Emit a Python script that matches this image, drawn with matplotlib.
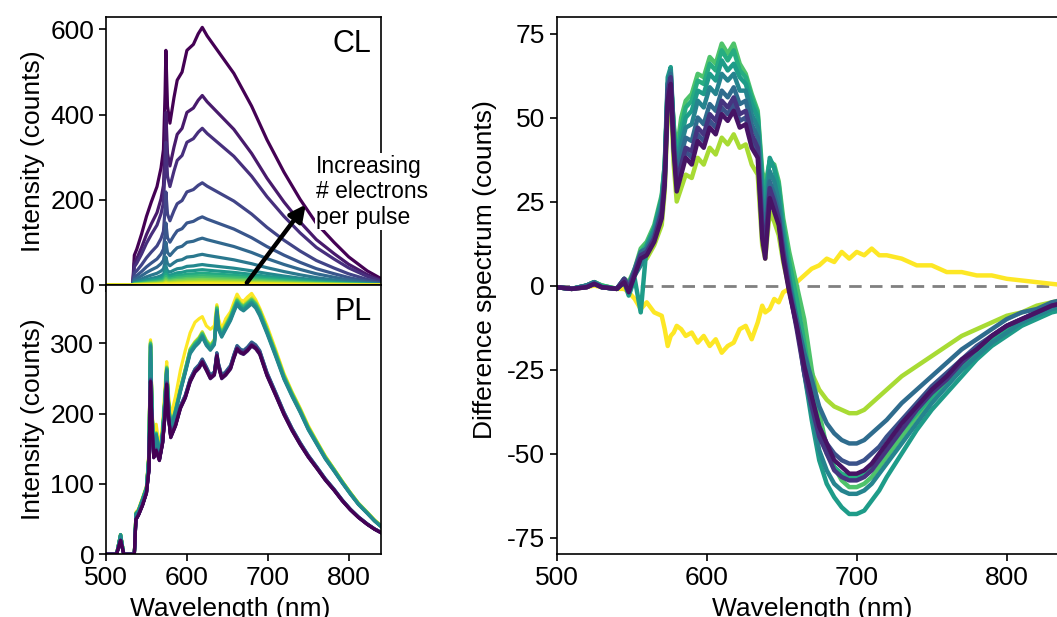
import numpy as np
import matplotlib
matplotlib.use("Agg")
import matplotlib.pyplot as plt

plt.rcParams['font.family'] = ['Liberation Sans', 'DejaVu Sans']
plt.rcParams['axes.unicode_minus'] = False
plt.rcParams['axes.linewidth'] = 1.2

# ---- CL: brightest spectrum, and peak heights of every spectrum ----
cl_wl = [500, 533, 535, 538, 544, 550, 556, 563, 568, 571, 573, 574, 576, 579,
         584, 588, 594, 600, 608, 614, 619, 625, 640, 658, 680, 699, 720, 740,
         760, 782, 800, 823, 840]
cl_top = [0, 0, 70, 84, 120, 161, 195, 231, 275, 318, 450, 551, 420, 380,
          440, 481, 500, 551, 565, 590, 605, 585, 545, 497, 420, 341, 265, 201,
          145, 100, 66, 33, 15]
cl_peak = [605, 445, 368, 240, 160, 110, 72, 48, 36, 28, 22, 17, 13, 9, 6, 3]

# ---- PL spectra ----
pl_wl = [500, 513, 518, 522, 535, 537, 540, 545, 550, 553, 555, 557, 559, 562,
         566, 570, 573, 575, 577, 580, 586, 592, 598, 604, 610, 615, 619, 624,
         629, 634, 637, 639, 643, 648, 654, 658, 662, 666, 670, 675, 680, 685,
         690, 699, 710, 720, 730, 740, 750, 761, 771, 782, 792, 802, 812, 823,
         832, 840]
pl_low = [0, 0, 20, 0, 0, 50, 56, 70, 88, 120, 248, 180, 139, 149,
          135, 160, 200, 244, 200, 168, 185, 210, 225, 248, 262, 268, 276, 265,
          253, 258, 285, 270, 253, 258, 267, 282, 295, 290, 288, 293, 300, 296,
          288, 257, 228, 201, 178, 158, 140, 123, 107, 92, 77, 64, 53, 43,
          36, 31]
pl_high = [0, 0, 28, 0, 0, 58, 62, 78, 95, 140, 300, 200, 150, 172,
           140, 175, 225, 265, 220, 180, 205, 235, 262, 290, 300, 306, 314, 302,
           295, 303, 350, 325, 314, 325, 338, 350, 361, 355, 352, 357, 362, 356,
           345, 319, 285, 253, 228, 205, 180, 158, 138, 120, 103, 87, 72, 59,
           48, 40]
pl_yellow = [0, 0, 28, 0, 0, 60, 64, 80, 97, 145, 305, 205, 158, 185,
             150, 185, 240, 274, 230, 195, 225, 262, 290, 315, 330, 335, 338, 325,
             320, 325, 355, 335, 320, 335, 345, 358, 370, 362, 360, 366, 371, 362,
             350, 325, 290, 257, 231, 208, 183, 160, 140, 121, 104, 88, 73, 60,
             49, 41]
pl_group = [0, 0, 0, 0, 0, 0, 0, 1, 1, 1, 1, 1, 1, 1, 1, 2]
pl_peak = [297, 298, 296, 299, 301, 300, 302, 356, 358, 359, 361, 362, 363, 362, 365, 371]

# ---- difference spectra ----
diff_wl = [500, 510, 520, 525, 530, 540, 545, 548, 552, 556, 560, 565, 570, 572,
           574, 576, 578, 580, 583, 586, 590, 594, 598, 602, 606, 610, 614, 618,
           622, 626, 630, 634, 637, 639, 642, 645, 648, 651, 655, 660, 665, 670,
           675, 680, 685, 690, 695, 700, 705, 710, 715, 720, 730, 740, 750, 760,
           770, 780, 790, 800, 810, 820, 830, 840]
diff_purple = [-0.5, -1, -0.5, 0.5, -0.5, -1, 1, -2, 3, 8, 9, 13, 20, 30,
               55, 60, 40, 28, 33, 38, 36, 43, 41, 47, 45, 51, 49, 52,
               47, 48, 41, 38, 14, 8, 26, 22, 18, 8, -2, -12, -24, -33,
               -42, -47, -52, -54, -56, -56, -55, -53, -50, -47, -41, -36, -31, -27,
               -22, -19, -15, -12, -10, -8, -6, -5]
diff_indigo = [-0.5, -1, -0.5, 0.5, -0.5, -1, 2, -1, 4, 9, 10, 14, 22, 32,
               58, 62, 42, 31, 36, 41, 40, 47, 45, 51, 49, 55, 53, 56,
               51, 52, 45, 41, 18, 12, 29, 25, 20, 10, -1, -13, -26, -36,
               -45, -50, -55, -57, -58, -58, -57, -55, -52, -49, -43, -37, -32, -28,
               -23, -19, -15, -12, -10, -8, -6, -5]
diff_violet = [-0.5, -1, -0.5, 0.5, -0.5, -1, 1, -1, 4, 9, 10, 14, 21, 31,
               57, 61, 41, 30, 35, 40, 38, 45, 43, 49, 47, 53, 51, 54,
               49, 50, 43, 40, 16, 10, 27, 24, 19, 9, -1, -12, -24, -34,
               -42, -47, -50, -52, -53, -53, -52, -50, -48, -45, -40, -35, -30, -26,
               -22, -18, -15, -12, -10, -8, -6, -5]
diff_blue = [-0.5, -1, 0, 1, -0.5, -1, 2, 0, 5, 10, 11, 15, 23, 33,
             60, 63, 44, 33, 39, 44, 43, 50, 48, 54, 52, 58, 56, 59,
             54, 55, 48, 44, 22, 16, 31, 27, 22, 11, 0, -10, -20, -28,
             -36, -41, -44, -46, -47, -47, -46, -44, -42, -40, -35, -31, -27, -23,
             -19, -16, -13, -10, -8, -7, -5, -4]
diff_cyan = [-0.5, -1, 0, 1, -0.5, -1, 1, -2, 3, 6, 11, 16, 24, 34,
             60, 64, 45, 35, 42, 47, 48, 55, 53, 59, 57, 63, 61, 63,
             58, 58, 51, 47, 26, 20, 34, 31, 25, 14, 2, -11, -26, -38,
             -49, -55, -59, -61, -62, -62, -61, -59, -56, -53, -47, -41, -35, -30,
             -25, -21, -17, -14, -11, -9, -7, -6]
diff_teal = [-0.5, -1, 0, 1, -0.5, -1, 1, -3, 2, -8, 12, 17, 26, 36,
             62, 65, 46, 36, 44, 50, 52, 58, 57, 63, 61, 67, 64, 66,
             62, 60, 54, 50, 30, 24, 38, 35, 28, 16, 3, -10, -26, -40,
             -52, -59, -63, -66, -68, -68, -67, -64, -61, -57, -50, -43, -37, -32,
             -27, -22, -18, -15, -12, -10, -8, -7]
diff_jade = [-0.5, -1, 0, 1, 0, -1, 2, 0, 4, 10, 12, 17, 26, 35,
             59, 62, 47, 38, 47, 53, 55, 61, 60, 66, 64, 70, 67, 70,
             64, 62, 56, 51, 32, 27, 37, 35, 30, 18, 7, -4, -17, -31,
             -43, -50, -54, -56, -57, -57, -56, -54, -52, -49, -43, -38, -33, -28,
             -24, -20, -16, -13, -11, -9, -7, -6]
diff_green = [-0.5, -1, 0, 1, 0, -1, 2, 1, 5, 11, 13, 18, 27, 36,
              58, 61, 48, 40, 50, 55, 57, 63, 62, 68, 66, 72, 69, 72,
              66, 63, 57, 52, 34, 30, 37, 36, 31, 20, 10, 0, -10, -25,
              -38, -48, -54, -58, -60, -60, -59, -57, -54, -51, -45, -39, -34, -29,
              -25, -21, -17, -14, -11, -9, -7, -6]
diff_lime = [-0.5, -1, 0, 1, 0, -1, 1, 0, 3, 7, 8, 12, 18, 28,
             52, 56, 36, 25, 29, 33, 32, 38, 36, 41, 39, 44, 42, 45,
             41, 42, 36, 33, 12, 8, 22, 19, 15, 7, -1, -10, -19, -26,
             -31, -34, -36, -37, -38, -38, -37, -35, -33, -31, -27, -24, -21, -18,
             -15, -13, -11, -9, -8, -6, -5, -4]
diff_yellow = [-0.5, -1, -0.5, 0, -0.5, -1, -1, -2, -4, -7, -5, -8, -9, -13,
               -18, -15, -14, -12, -13, -15, -14, -17, -15, -18, -16, -20, -18, -17,
               -13, -12, -16, -11, -6, -8, -7, -4, -5, -2, -1, 1, 3, 5,
               6, 8, 7, 10, 8, 10, 9, 11, 9, 9, 8, 6, 6, 4,
               4, 3, 3, 2, 1.5, 1, 0.5, 0]
# drawn back to front; colour position on viridis for each
diff_series = [diff_yellow, diff_lime, diff_green, diff_jade, diff_teal, diff_cyan,
               diff_blue, diff_violet, diff_indigo, diff_purple]
diff_cval = [1.0, 0.87, 0.72, 0.62, 0.55, 0.45, 0.35, 0.25, 0.15, 0.05]

cmap = plt.get_cmap('viridis')
colors = cmap(np.linspace(0, 1, 16))

fig = plt.figure(figsize=(10.57, 6.17), dpi=100)
ax_cl = fig.add_axes([0.1003, 0.5381, 0.2602, 0.4348])
ax_pl = fig.add_axes([0.1003, 0.1016, 0.2602, 0.4365], sharex=ax_cl)
ax_d = fig.add_axes([0.5267, 0.1016, 0.4825, 0.8713])

fs = 19

# CL panel
top = np.array(cl_top, dtype=float)
for k, peak in enumerate(cl_peak):
    ax_cl.plot(cl_wl, top * peak / top.max(), color=colors[k], lw=2.3)
ax_cl.set_ylim(0, 630)
ax_cl.set_yticks([0, 200, 400, 600])
ax_cl.set_ylabel("Intensity (counts)", fontsize=fs)
ax_cl.text(0.965, 0.955, "CL", transform=ax_cl.transAxes, ha="right", va="top", fontsize=22)
ax_cl.annotate("", xy=(749, 194), xytext=(672, 0),
               arrowprops=dict(arrowstyle="-|>", lw=3.2, color="k", mutation_scale=24),
               annotation_clip=False)
ax_cl.text(760, 219, "Increasing\n# electrons\nper pulse", fontsize=16.5, ha="left", va="center",
           linespacing=1.15, zorder=5,
           bbox=dict(facecolor="white", edgecolor="none", pad=1))
ax_cl.tick_params(labelbottom=False)

# PL panel
templates = [np.array(pl_low, float), np.array(pl_high, float), np.array(pl_yellow, float)]
for k in range(15, -1, -1):
    t = templates[pl_group[k]]
    ax_pl.plot(pl_wl, t * pl_peak[k] / t.max(), color=colors[k], lw=2.3)
ax_pl.set_ylim(0, 383)
ax_pl.set_yticks([0, 100, 200, 300])
ax_pl.set_xlim(500, 840)
ax_pl.set_xticks([500, 600, 700, 800])
ax_pl.set_ylabel("Intensity (counts)", fontsize=fs)
ax_pl.set_xlabel("Wavelength (nm)", fontsize=fs)
ax_pl.xaxis.set_label_coords(0.45, -0.158)
ax_pl.text(0.965, 0.955, "PL", transform=ax_pl.transAxes, ha="right", va="top", fontsize=22)

# difference panel
ax_d.axhline(0, color="#808080", lw=2, ls=(0, (4.5, 3)), zorder=1)
for vals, cv in zip(diff_series, diff_cval):
    ax_d.plot(diff_wl, vals, color=cmap(cv), lw=3.2, zorder=2)
ax_d.set_xlim(500, 840)
ax_d.set_ylim(-80, 80)
ax_d.set_xticks([500, 600, 700, 800])
ax_d.set_yticks([-75, -50, -25, 0, 25, 50, 75])
ax_d.set_xlabel("Wavelength (nm)", fontsize=fs)
ax_d.xaxis.set_label_coords(0.5, -0.079)
ax_d.set_ylabel("Difference spectrum (counts)", fontsize=fs)
ax_d.yaxis.set_label_coords(-0.118, 0.53)

for ax in (ax_cl, ax_pl, ax_d):
    ax.tick_params(direction="out", length=5, width=1.2, labelsize=fs)

fig.savefig("out.png", dpi=100)
